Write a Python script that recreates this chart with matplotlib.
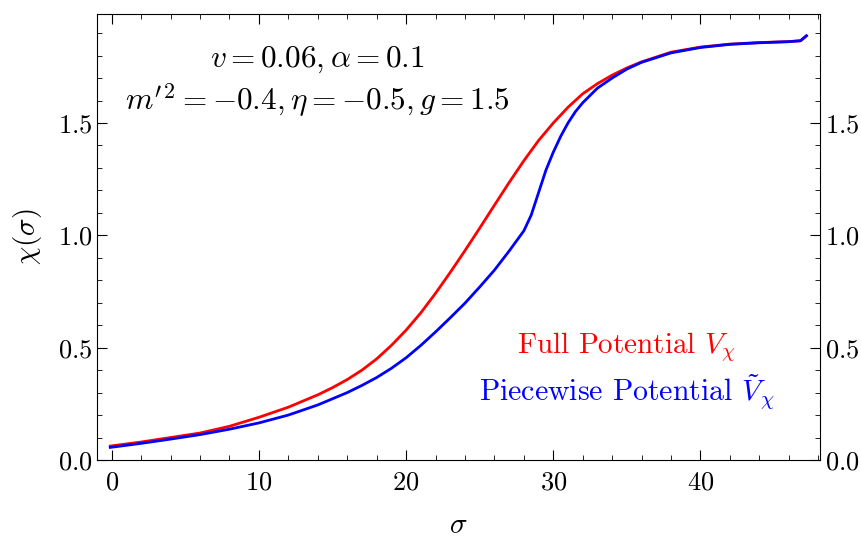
import matplotlib
matplotlib.use("Agg")
import matplotlib.pyplot as plt
from matplotlib.ticker import MultipleLocator

plt.rcParams['font.family'] = 'serif'
plt.rcParams['font.serif'] = ['cmr10']
plt.rcParams['mathtext.fontset'] = 'cm'
plt.rcParams['axes.formatter.use_mathtext'] = True

# full potential curve
sig_full = [-0.1, 2, 4, 6, 8, 10, 12, 14, 15, 16, 17, 18, 19, 20, 21, 22, 23,
            24, 25, 26, 27, 28, 29, 30, 31, 32, 33, 34, 35, 36, 38, 40, 42,
            44, 46, 46.8, 47.2]
chi_full = [0.062, 0.08, 0.10, 0.12, 0.15, 0.19, 0.235, 0.29, 0.322, 0.358,
            0.40, 0.45, 0.51, 0.578, 0.655, 0.742, 0.835, 0.932, 1.032, 1.134,
            1.235, 1.332, 1.422, 1.50, 1.57, 1.63, 1.675, 1.713, 1.745, 1.772,
            1.815, 1.838, 1.851, 1.858, 1.862, 1.866, 1.888]

# piecewise potential curve
sig_pw = [-0.1, 2, 4, 6, 8, 10, 12, 14, 16, 17, 18, 19, 20, 21, 22, 23, 24, 25,
          26, 27, 28, 28.5, 29, 29.5, 30, 30.5, 31, 31.5, 32, 33, 34, 35, 36,
          38, 40, 42, 44, 46, 46.8, 47.2]
chi_pw = [0.056, 0.074, 0.093, 0.113, 0.137, 0.165, 0.20, 0.245, 0.30, 0.332,
          0.367, 0.408, 0.455, 0.51, 0.57, 0.633, 0.698, 0.77, 0.845, 0.93,
          1.02, 1.09, 1.19, 1.29, 1.37, 1.44, 1.50, 1.55, 1.59, 1.655, 1.70,
          1.74, 1.77, 1.812, 1.836, 1.85, 1.857, 1.862, 1.866, 1.888]

fig = plt.figure(figsize=(8.61, 5.39), dpi=100)
ax = fig.add_axes([0.1127, 0.1466, 0.8393, 0.8274])

ax.plot(sig_full, chi_full, color='#ff0000', lw=2)
ax.plot(sig_pw, chi_pw, color='#0000ff', lw=2)

ax.set_xlim(-1, 48.1)
ax.set_ylim(0, 1.985)
ax.xaxis.set_major_locator(MultipleLocator(10))
ax.xaxis.set_minor_locator(MultipleLocator(2))
ax.yaxis.set_major_locator(MultipleLocator(0.5))
ax.yaxis.set_minor_locator(MultipleLocator(0.1))
ax.tick_params(which='both', direction='in', top=True, right=True,
               labelright=True, labelsize=19)
ax.tick_params(which='major', length=7)
ax.tick_params(which='minor', length=3.5)
ax.tick_params(axis='x', pad=8)

ax.set_xlabel(r'$\sigma$', fontsize=21, labelpad=13)
ax.set_ylabel(r'$\chi(\sigma)$', fontsize=21, labelpad=10)

ax.text(0.305, 0.898, r'$v=0.06, \alpha=0.1$', transform=ax.transAxes,
        ha='center', va='center', fontsize=22.5)
ax.text(0.305, 0.806, r"$m'^2=-0.4, \eta=-0.5, g=1.5$", transform=ax.transAxes,
        ha='center', va='center', fontsize=22.5)

ax.text(0.733, 0.253, r'Full Potential $V_\chi$', transform=ax.transAxes,
        ha='center', va='center', fontsize=21, color='#ff0000')
ax.text(0.733, 0.152, r'Piecewise Potential $\tilde{V}_\chi$', transform=ax.transAxes,
        ha='center', va='center', fontsize=21.5, color='#0000ff')

fig.savefig('out.png', dpi=100)
